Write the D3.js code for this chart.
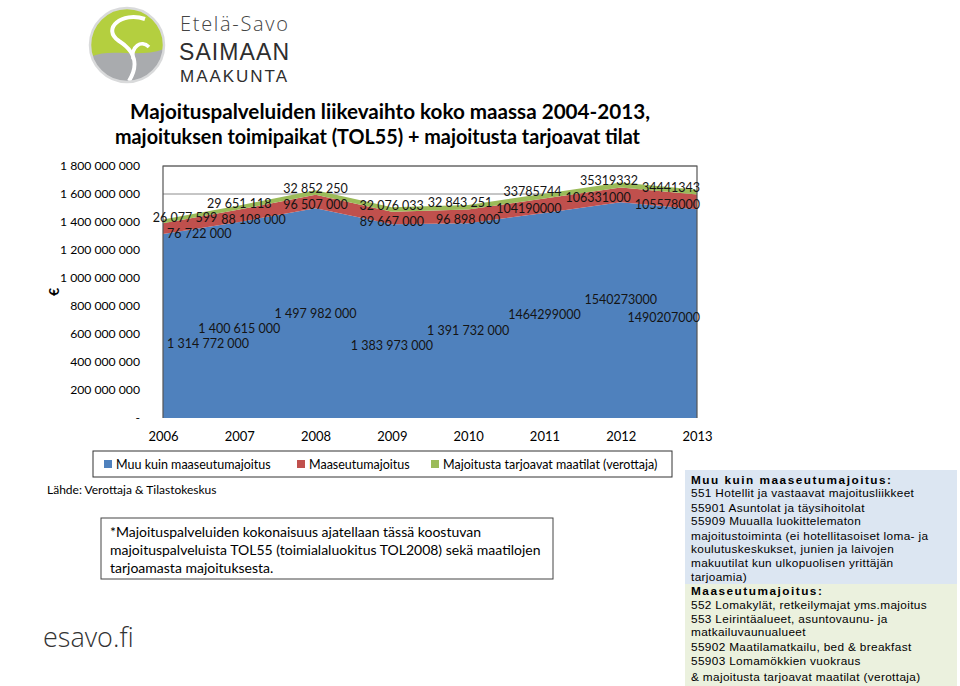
<!DOCTYPE html>
<html><head><meta charset="utf-8">
<script src="https://cdn.jsdelivr.net/npm/d3@7"></script>
<style>body{margin:0;background:#fff}svg{display:block}</style>
</head><body>
<svg id="c" width="960" height="686"></svg>
<script>
// ---- data ----
const years = ["2006","2007","2008","2009","2010","2011","2012","2013"];
const muuKuin = [1314772000,1400615000,1497982000,1383973000,1391732000,1464299000,1540273000,1490207000];
const maaseutu = [76722000,88108000,96507000,89667000,96898000,104190000,106331000,105578000];
const maatilat = [26077599,29651118,32852250,32076033,32843251,33785744,35319332,34441343];
const muuLabels = ["1 314 772 000","1 400 615 000","1 497 982 000","1 383 973 000","1 391 732 000","1464299000","1540273000","1490207000"];
const maaseutuLabels = ["76 722 000","88 108 000","96 507 000","89 667 000","96 898 000","104190000","106331000","105578000"];
const maatilatLabels = ["26 077 599","29 651 118","32 852 250","32 076 033","32 843 251","33785744","35319332","34441343"];
const seriesNames = ["Muu kuin maaseutumajoitus","Maaseutumajoitus","Majoitusta tarjoavat maatilat (verottaja)"];
const yTicks = [0,200000000,400000000,600000000,800000000,1000000000,1200000000,1400000000,1600000000,1800000000];
const titleLines = ["Majoituspalveluiden liikevaihto koko maassa 2004-2013,","majoituksen toimipaikat (TOL55) + majoitusta tarjoavat tilat"];
const noteLines = ["*Majoituspalveluiden kokonaisuus ajatellaan tässä koostuvan","majoituspalveluista TOL55 (toimialaluokitus TOL2008) sekä maatilojen","tarjoamasta majoituksesta."];
const tableBlue = [["Muu kuin maaseutumajoitus:",true],["551 Hotellit ja vastaavat majoitusliikkeet",false],["55901 Asuntolat ja täysihoitolat",false],["55909 Muualla luokittelematon",false],["majoitustoiminta (ei hotellitasoiset loma- ja",false],["koulutuskeskukset, junien ja laivojen",false],["makuutilat kun ulkopuolisen yrittäjän",false],["tarjoamia)",false]];
const tableGreen = [["Maaseutumajoitus:",true],["552 Lomakylät, retkeilymajat yms.majoitus",false],["553 Leirintäalueet, asuntovaunu- ja",false],["matkailuvaunualueet",false],["55902 Maatilamatkailu, bed & breakfast",false],["55903 Lomamökkien vuokraus",false],["& majoitusta tarjoavat maatilat (verottaja)",false]];

const colors = ["#4f81bd","#c0504d","#9bbb59"];
const FONT = "Lato, 'Open Sans', sans-serif";
const svg = d3.select("#c");

// ---- logo ----
const logo = svg.append("g");
const cx0 = 127, cy0 = 45, r0 = 37;
logo.append("clipPath").attr("id","lc").append("circle").attr("cx",cx0).attr("cy",cy0).attr("r",r0);
const lg = logo.append("g").attr("clip-path","url(#lc)");
lg.append("rect").attr("x",cx0-r0).attr("y",cy0-r0).attr("width",2*r0).attr("height",2*r0).attr("fill","#b4cf3f");
lg.append("path").attr("d",`M${cx0-r0},${cy0+12} C${cx0-15},${cy0+2} ${cx0+10},${cy0+14} ${cx0+r0},${cy0+4} L${cx0+r0},${cy0+r0} L${cx0-r0},${cy0+r0}Z`).attr("fill","#a9abae");
lg.append("path").attr("d",`M${cx0+18},${cy0-26} C${cx0-5},${cy0-34} ${cx0-26},${cy0-16} ${cx0-8},${cy0-4} C${cx0+8},${cy0+6} ${cx0+12},${cy0+20} ${cx0+2},${cy0+36}`).attr("fill","none").attr("stroke","#fff").attr("stroke-width",4);
lg.append("path").attr("d",`M${cx0+22},${cy0+2} C${cx0+14},${cy0-6} ${cx0+4},${cy0+2} ${cx0+6},${cy0+14}`).attr("fill","none").attr("stroke","#fff").attr("stroke-width",3.5);
logo.append("circle").attr("cx",cx0).attr("cy",cy0).attr("r",r0).attr("fill","none").attr("stroke","#d9dadb").attr("stroke-width",2.5);
logo.append("text").attr("x",180).attr("y",31).attr("font-family","'Open Sans', sans-serif").attr("font-weight",300).attr("font-size",20).attr("fill","#444").attr("textLength",108).text("Etelä-Savo");
logo.append("text").attr("x",179).attr("y",60).attr("font-family","'Liberation Sans', sans-serif").attr("font-size",23).attr("fill","#2e2e2e").attr("textLength",110).text("SAIMAAN");
logo.append("text").attr("x",180).attr("y",81.5).attr("font-family","'Liberation Sans', sans-serif").attr("font-size",17).attr("fill","#2e2e2e").attr("textLength",107).text("MAAKUNTA");

// ---- title ----
svg.append("g").selectAll("text").data(titleLines).join("text")
  .attr("x",(d,i)=>i===0?130:115).attr("y",(d,i)=>119+i*25)
  .attr("textLength",(d,i)=>i===0?520:525).attr("lengthAdjust","spacingAndGlyphs")
  .attr("font-family",FONT).attr("font-weight","bold").attr("font-size",20.5).attr("fill","#000").text(d=>d);

// ---- chart ----
const L=163,R=697,T=166,B=418;
const x = d3.scalePoint().domain(years).range([L,R]);
const y = d3.scaleLinear().domain([0,1800000000]).range([B,T]);
const rows = years.map((yr,i)=>({year:yr,a:muuKuin[i],b:maaseutu[i],c:maatilat[i]}));
const stack = d3.stack().keys(["a","b","c"])(rows);

// gridlines
svg.append("g").selectAll("line").data(yTicks.filter(d=>d>0)).join("line")
  .attr("x1",L).attr("x2",R).attr("y1",d=>y(d)).attr("y2",d=>y(d)).attr("stroke","#8c8c8c").attr("stroke-width",1);

const area = d3.area().x(d=>x(d.data.year)).y0(d=>y(d[0])).y1(d=>y(d[1]));
svg.append("g").selectAll("path").data(stack).join("path").attr("d",area).attr("fill",(d,i)=>colors[i]);

// plot border
svg.append("path").attr("d",`M${L},${B} V${T} H${R} V${B}`).attr("fill","none").attr("stroke","#555").attr("stroke-width",1.2);

// y axis
const yAxis = d3.axisLeft(y).tickValues(yTicks).tickSize(0).tickPadding(23)
  .tickFormat(d=> d===0 ? "-" : d3.format(",")(d).replace(/,/g," "));
const ya = svg.append("g").attr("transform",`translate(${L},0)`).call(yAxis);
ya.select(".domain").remove();
ya.selectAll("text").attr("font-family",FONT).attr("font-size",12.2).attr("fill","#000");

// x axis
const xAxis = d3.axisBottom(x).tickSize(0).tickPadding(14);
const xa = svg.append("g").attr("transform",`translate(0,${B})`).call(xAxis);
xa.select(".domain").remove();
xa.selectAll("text").attr("font-family",FONT).attr("font-size",13).attr("fill","#000");

// euro
svg.append("text").attr("transform","translate(59,292) rotate(-90)").attr("text-anchor","middle")
  .attr("font-family",FONT).attr("font-weight","bold").attr("font-size",14).text("€");

// data labels
const labelG = svg.append("g");
const allLabels = [];
function addLabels(texts, yPos, series){
  texts.forEach((t,i)=>{
    const el = labelG.append("text").attr("font-family",FONT).attr("font-size",12.5).attr("fill","#141414")
      .attr("text-anchor","middle").attr("dominant-baseline","central").text(t);
    const w = el.node().getComputedTextLength();
    const px = x(years[i]);
    let c = Math.max(L + w/2 + 4, Math.min(R - w/2 + 3, px));
    allLabels.push({el,w,c,yy:yPos(i),series,pinned: c < px});
  });
}
addLabels(maatilatLabels, i=>y(muuKuin[i]+maaseutu[i]+maatilat[i])-2, 2);
addLabels(maaseutuLabels, i=>y(muuKuin[i]+maaseutu[i])+10, 1);
addLabels(muuLabels, i=>y(muuKuin[i])+107, 0);
for(let it=0; it<30; it++){
  for(let i=0;i<allLabels.length;i++) for(let j=i+1;j<allLabels.length;j++){
    let a=allLabels[i], b=allLabels[j];
    const dy = Math.abs(a.yy-b.yy);
    const both0 = a.series===0 && b.series===0;
    if(dy >= (both0 ? 15 : 11)) continue;
    if(a.c>b.c){ const t=a; a=b; b=t; }
    const ov = (a.c + a.w/2) - (b.c - b.w/2) + 4;
    if(ov<=0) continue;
    if(both0){
      const need = 15.5 - dy;
      if(a.yy<=b.yy){ a.yy-=need/2; b.yy+=need/2; } else { a.yy+=need/2; b.yy-=need/2; }
    } else if(b.pinned){
      a.c -= ov;
    } else if(a.pinned){
      b.c += ov;
    } else {
      a.c -= ov/2; b.c += ov/2;
    }
  }
}
allLabels.forEach(o=>o.el.attr("x",o.c).attr("y",o.yy));

// legend
const leg = svg.append("g");
leg.append("rect").attr("x",93).attr("y",451).attr("width",579).attr("height",26).attr("fill","#fff").attr("stroke","#333").attr("stroke-width",1);
const legX = [104,297,431];
seriesNames.forEach((n,i)=>{
  leg.append("rect").attr("x",legX[i]).attr("y",460).attr("width",8).attr("height",8).attr("fill",colors[i]);
  leg.append("text").attr("x",legX[i]+12).attr("y",468.5).attr("font-family",FONT).attr("font-size",12.5).attr("fill","#000").text(n);
});

// source
svg.append("text").attr("x",47).attr("y",494).attr("font-family",FONT).attr("font-size",12).attr("fill","#000").text("Lähde: Verottaja & Tilastokeskus");

// note box
svg.append("rect").attr("x",101).attr("y",518).attr("width",452).attr("height",61).attr("fill","#fff").attr("stroke","#444").attr("stroke-width",1);
svg.append("g").selectAll("text").data(noteLines).join("text")
  .attr("x",110).attr("y",(d,i)=>537+i*18).attr("font-family",FONT).attr("font-size",14).attr("fill","#000").text(d=>d);

// esavo.fi
svg.append("text").attr("x",43).attr("y",647).attr("font-family","'Open Sans', sans-serif").attr("font-weight",300).attr("font-size",27).attr("fill","#333").text("esavo.fi");

// right table
svg.append("rect").attr("x",685).attr("y",470).attr("width",272).attr("height",114).attr("fill","#dce6f2");
svg.append("rect").attr("x",685).attr("y",584).attr("width",272).attr("height",102).attr("fill","#ebf1de");
const blueY = [484,497,512,525,540,553,567,581];
const greenY = [595,609,623,636,651,665,681];
function tableText(arr, ys){
  svg.append("g").selectAll("text").data(arr).join("text")
    .attr("x",691).attr("y",(d,i)=>ys[i])
    .attr("font-family","'Liberation Sans', Arial, sans-serif").attr("font-size",11.8)
    .attr("font-weight",d=>d[1]?"bold":"normal").attr("letter-spacing",d=>d[1]?"1.5px":"0.35px")
    .attr("fill","#000").text(d=>d[0]);
}
tableText(tableBlue, blueY);
tableText(tableGreen, greenY);
</script>
</body></html>
